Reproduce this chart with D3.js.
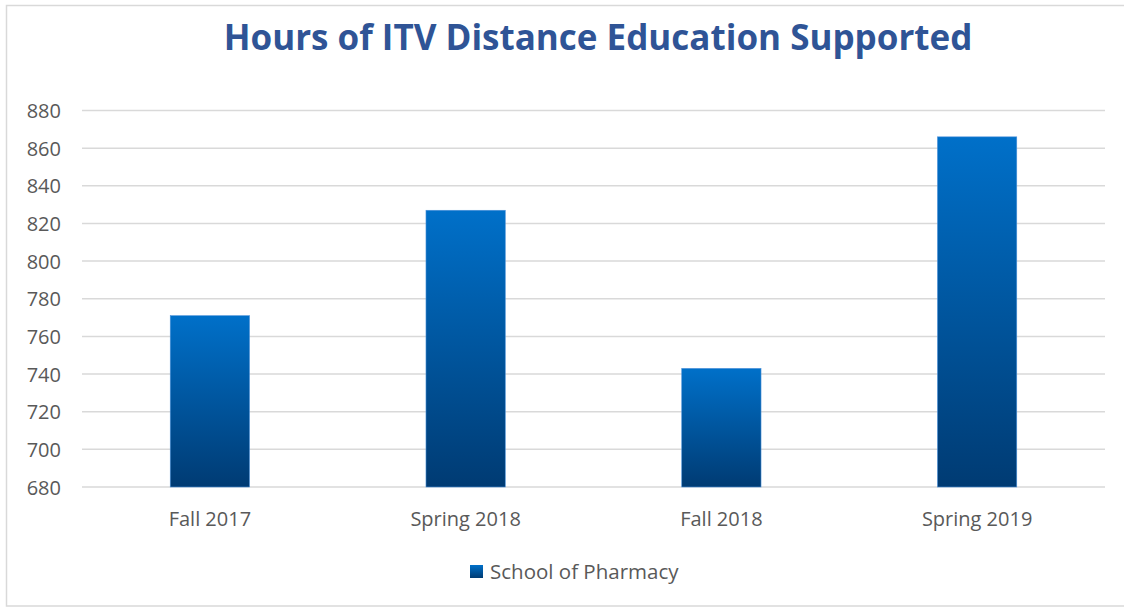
<!DOCTYPE html>
<html><head><meta charset="utf-8">
<script src="https://cdn.jsdelivr.net/npm/d3@7"></script>
<style>body{margin:0;background:#fff;}svg{display:block;}</style>
</head><body>
<script>
const categories = ["Fall 2017", "Spring 2018", "Fall 2018", "Spring 2019"];
const values = [771, 827, 743, 866];
const yTicks = [680, 700, 720, 740, 760, 780, 800, 820, 840, 860, 880];
const seriesName = "School of Pharmacy";
const titleText = "Hours of ITV Distance Education Supported";

const W = 1124, H = 607;
const svg = d3.select("body").append("svg").attr("width", W).attr("height", H);

const defs = svg.append("defs");
const grad = defs.append("linearGradient").attr("id", "barGrad").attr("x1", 0).attr("y1", 0).attr("x2", 0).attr("y2", 1);
grad.append("stop").attr("offset", "0%").attr("stop-color", "#0070C9");
grad.append("stop").attr("offset", "100%").attr("stop-color", "#003B73");

// chart frame
svg.append("rect").attr("x", 6.5).attr("y", 5.5).attr("width", W + 10).attr("height", H - 6.5)
  .attr("fill", "none").attr("stroke", "#D9D9D9").attr("stroke-width", 1.5);

const x = d3.scaleBand().domain(categories).range([82, 1105]).paddingInner(0.69).paddingOuter(0.345);
const y = d3.scaleLinear().domain([680, 880]).range([487, 110.5]);

// gridlines
svg.append("g").selectAll("line").data(yTicks).join("line")
  .attr("x1", 82).attr("x2", 1105)
  .attr("y1", d => y(d)).attr("y2", d => y(d))
  .attr("stroke", "#D9D9D9").attr("stroke-width", 1.5);

// y axis labels
const yAxis = d3.axisLeft(y).tickValues(yTicks).tickSize(0).tickPadding(0);
const gy = svg.append("g").attr("transform", "translate(61,0)").call(yAxis);
gy.select(".domain").remove();
gy.selectAll("text").attr("font-family", "Open Sans, sans-serif").attr("font-size", 20).attr("fill", "#595959").attr("dy", "0.35em");

// bars
svg.append("g").selectAll("rect").data(values).join("rect")
  .attr("x", (d, i) => x(categories[i]))
  .attr("width", x.bandwidth())
  .attr("y", d => y(d))
  .attr("height", d => y(680) - y(d))
  .attr("fill", "url(#barGrad)")
  .attr("stroke", "#4A90D9").attr("stroke-width", 0.6);

// x axis labels
const xAxis = d3.axisBottom(x).tickSize(0).tickPadding(0);
const gx = svg.append("g").attr("transform", "translate(0,519)").call(xAxis);
gx.select(".domain").remove();
gx.selectAll("text").attr("font-family", "Open Sans, sans-serif").attr("font-size", 20).attr("fill", "#595959").attr("dy", "0.35em");

// title
svg.append("text").attr("x", 598).attr("y", 50).attr("text-anchor", "middle")
  .attr("font-family", "Open Sans, sans-serif").attr("font-weight", "bold").attr("font-size", 35)
  .attr("fill", "#2F5496").text(titleText);

// legend
const lg = svg.append("g").attr("transform", "translate(470,565)");
lg.append("rect").attr("width", 13).attr("height", 13).attr("fill", "url(#barGrad)");
lg.append("text").attr("x", 20).attr("y", 7).attr("dy", "0.35em")
  .attr("font-family", "Open Sans, sans-serif").attr("font-size", 20.5).attr("fill", "#595959").text(seriesName);
</script>
</body></html>
